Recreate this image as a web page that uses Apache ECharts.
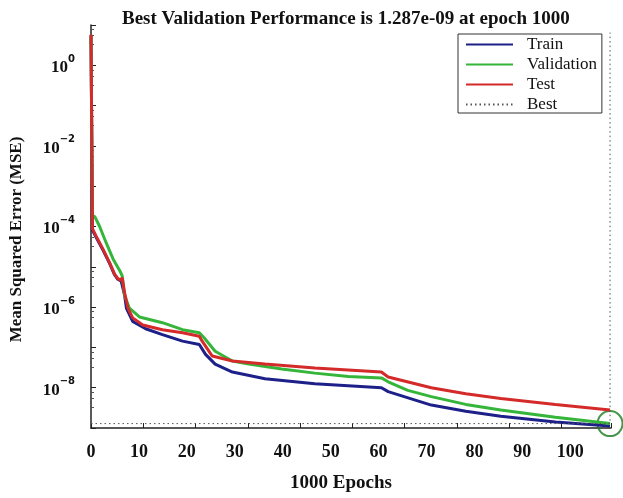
<!DOCTYPE html>
<html>
<head>
<meta charset="utf-8">
<script src="https://cdn.jsdelivr.net/npm/echarts@6/dist/echarts.min.js"></script>
<style>
html,body{margin:0;padding:0;background:#fff;}
#chart{width:623px;height:498px;}
</style>
</head>
<body>
<div id="chart"></div>
<script>
// ---- data ----
const TITLE = 'Best Validation Performance is 1.287e-09 at epoch 1000';
const X_TICK_LABELS = [0, 10, 20, 30, 40, 50, 60, 70, 80, 90, 100];
const Y_TICK_EXPONENTS = [0, -2, -4, -6, -8];

const trainEpochs = [0, 0.3, 1.1, 2.5, 3.9, 4.9, 5.6, 6.3, 6.5, 7.0, 7.4, 8.7, 11.4, 14.9, 19.1, 22.6, 23.9, 25.9, 29.5, 36.3, 46.7, 60.6, 62.0, 71, 78.2, 85.5, 96.9, 108.3];
const trainMse    = [5.5, 8.2e-5, 5.3e-5, 2.6e-5, 1.2e-5, 6.4e-6, 4.9e-6, 4.4e-6, 4.9e-6, 2.0e-6, 9.3e-7, 4.4e-7, 2.9e-7, 2.07e-7, 1.43e-7, 1.18e-7, 6.7e-8, 3.85e-8, 2.45e-8, 1.66e-8, 1.25e-8, 1.0e-8, 8.0e-9, 3.7e-9, 2.6e-9, 1.96e-9, 1.4e-9, 1.12e-9];

const valEpochs = [0, 0.3, 0.8, 1.8, 3.2, 4.6, 6.0, 6.5, 7.0, 8.0, 10.1, 14.9, 19.1, 22.6, 23.6, 25.9, 29.5, 32.9, 39.8, 46.7, 53.7, 60.6, 62.0, 66.1, 71, 78.2, 85.5, 96.9, 108.3];
const valMse    = [5.2, 1.9e-4, 1.75e-4, 1.0e-4, 3.85e-5, 1.57e-5, 8.0e-6, 6.0e-6, 1.96e-6, 9.5e-7, 5.7e-7, 4.1e-7, 2.75e-7, 2.3e-7, 1.73e-7, 8.0e-8, 4.6e-8, 3.85e-8, 2.9e-8, 2.3e-8, 1.89e-8, 1.75e-8, 1.4e-8, 8.6e-9, 6.0e-9, 3.85e-9, 2.8e-9, 1.85e-9, 1.287e-9];

const testEpochs = [0, 0.3, 1.1, 2.5, 3.9, 4.9, 5.6, 6.3, 6.5, 7.0, 7.7, 8.7, 10.8, 14.9, 19.1, 22.6, 23.2, 25.3, 29.5, 36.3, 46.7, 60.6, 62.0, 71, 78.2, 85.5, 96.9, 108.3];
const testMse    = [5.7, 8.9e-5, 5.7e-5, 2.75e-5, 1.25e-5, 6.7e-6, 5.1e-6, 4.6e-6, 5.4e-6, 2.3e-6, 9.5e-7, 5.4e-7, 3.6e-7, 2.75e-7, 2.3e-7, 1.9e-7, 1.43e-7, 6.1e-8, 4.6e-8, 3.85e-8, 3.1e-8, 2.45e-8, 1.85e-8, 1.0e-8, 7.1e-9, 5.4e-9, 3.85e-9, 2.8e-9];

const BEST_VALUE = 1.287e-9;
const BEST_EPOCH = 108.3;   // position of best epoch on the drawn axis
const BEST_LINE_TOP = 6.5;  // top end of the vertical best marker

const X_MIN = 0, X_MAX = 108.5;
const Y_MIN = 1e-9, Y_MAX = 10;

// ---- chart ----
const pair = (xs, ys) => xs.map((x, i) => [x, ys[i]]);
const SERIF = "'Liberation Serif', 'Times New Roman', serif";

const chart = echarts.init(document.getElementById('chart'), null, {renderer: 'canvas'});
chart.setOption({
  backgroundColor: '#ffffff',
  animation: false,
  title: {
    text: TITLE,
    left: 117, top: 5,
    textStyle: {fontFamily: SERIF, fontWeight: 'bold', fontSize: 19, color: '#111'}
  },
  legend: {
    orient: 'vertical',
    left: 458, top: 34,
    data: ['Train', 'Validation', 'Test', 'Best'],
    itemWidth: 47, itemHeight: 14, itemGap: 3,
    padding: [2, 5, 0, 7],
    borderColor: '#333', borderWidth: 1,
    backgroundColor: '#fff',
    itemStyle: {opacity: 0},
    textStyle: {fontFamily: SERIF, fontSize: 17, color: '#111', padding: [0, 0, 0, 9]}
  },
  grid: {left: 88, right: 12, top: 25, bottom: 63, containLabel: false},
  xAxis: [{
    type: 'value', min: X_MIN, max: X_MAX, interval: 10,
    name: '1000 Epochs', nameLocation: 'middle', nameGap: 46,
    nameTextStyle: {fontFamily: SERIF, fontWeight: 'bold', fontSize: 19, color: '#111', padding: [0, 20, 0, 0]},
    axisLine: {show: true, lineStyle: {color: '#222', width: 1.5}},
    axisTick: {show: false},
    splitLine: {show: false},
    axisLabel: {
      margin: 15, fontFamily: SERIF, fontWeight: 'bold', fontSize: 18, color: '#111',
      formatter: v => X_TICK_LABELS.indexOf(v) >= 0 ? String(v) : ''
    }
  }, {
    type: 'value', min: 0, max: 995, interval: 100, position: 'bottom',
    axisLine: {show: false},
    axisTick: {show: true, inside: true, length: 5, lineStyle: {color: '#222'}},
    axisLabel: {show: false},
    splitLine: {show: false}
  }],
  yAxis: {
    type: 'log', min: Y_MIN, max: Y_MAX, splitNumber: 10,
    name: 'Mean Squared Error (MSE)', nameLocation: 'middle', nameGap: 66,
    nameTextStyle: {fontFamily: SERIF, fontWeight: 'bold', fontSize: 17, color: '#111', padding: [0, 26, 0, 0]},
    axisLine: {show: true, lineStyle: {color: '#222', width: 1.5}},
    axisTick: {show: true, inside: true, length: 5, lineStyle: {color: '#222'}},
    minorTick: {show: true, splitNumber: 4, length: 3, lineStyle: {color: '#555'}},
    splitLine: {show: false},
    axisLabel: {
      margin: 16, color: '#111',
      showMinLabel: false, showMaxLabel: false,
      formatter: v => {
        const e = Math.round(Math.log10(v));
        if (Y_TICK_EXPONENTS.indexOf(e) < 0) return '';
        return '{b|10}{s|' + (e < 0 ? '\u2212' + (-e) : String(e)) + '}';
      },
      rich: {
        b: {fontFamily: SERIF, fontWeight: 'bold', fontSize: 17, lineHeight: 22, verticalAlign: 'bottom', color: '#111'},
        s: {fontFamily: "'DejaVu Sans', sans-serif", fontWeight: 'bold', fontSize: 10, lineHeight: 22, verticalAlign: 'top', color: '#111'}
      }
    }
  },
  series: [
    {name: 'Train', type: 'line', symbol: 'none', data: pair(trainEpochs, trainMse),
     lineStyle: {color: '#1c2088', width: 3}, itemStyle: {color: '#1c2088'}},
    {name: 'Validation', type: 'line', symbol: 'none', data: pair(valEpochs, valMse),
     lineStyle: {color: '#35b53a', width: 3}, itemStyle: {color: '#35b53a'}},
    {name: 'Test', type: 'line', symbol: 'none', data: pair(testEpochs, testMse),
     lineStyle: {color: '#d42a2a', width: 3}, itemStyle: {color: '#d42a2a'}},
    {name: 'Best', type: 'line', symbol: 'none',
     data: [[X_MIN, BEST_VALUE], [BEST_EPOCH, BEST_VALUE], [BEST_EPOCH, BEST_LINE_TOP]],
     lineStyle: {color: '#555', width: 1, type: [1.5, 3]}, itemStyle: {color: '#555'}},
    {name: 'BestPoint', type: 'scatter', symbol: 'circle', symbolSize: 25, clip: false,
     data: [[BEST_EPOCH, BEST_VALUE]],
     itemStyle: {color: 'rgba(0,0,0,0)', borderColor: '#187a1e', borderWidth: 2}}
  ]
});
</script>
</body>
</html>
